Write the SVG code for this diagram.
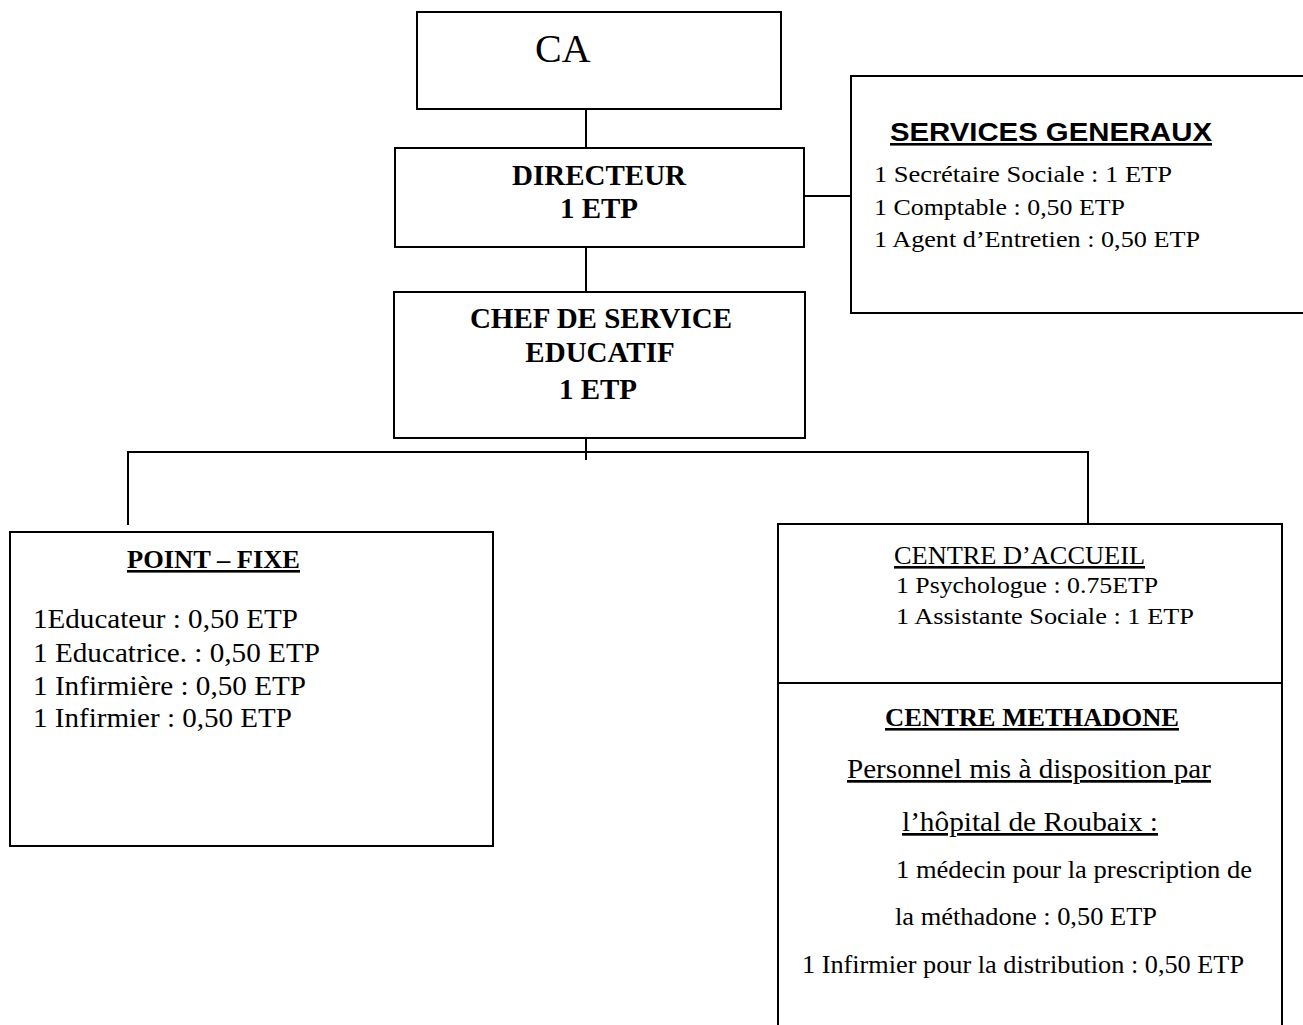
<svg xmlns="http://www.w3.org/2000/svg" width="1303" height="1025" viewBox="0 0 1303 1025">
<style>
rect.box{fill:#fff;stroke:#000;stroke-width:2}
line.c{stroke:#000;stroke-width:2}
text{fill:#000;font-family:"Liberation Serif","Times New Roman",serif}
.b{font-weight:bold}
.u{text-decoration:underline}
.sans{font-family:"Liberation Sans",Arial,sans-serif}
.m{text-anchor:middle}
</style>
<rect width="1303" height="1025" fill="#fff"/>
<g id="connectors">
<line class="c" x1="586" y1="109" x2="586" y2="150"/>
<line class="c" x1="586" y1="246" x2="586" y2="292"/>
<line class="c" x1="804" y1="196" x2="851" y2="196"/>
<line class="c" x1="586" y1="436" x2="586" y2="460"/>
<line class="c" x1="127" y1="452" x2="1089" y2="452"/>
<line class="c" x1="128" y1="451" x2="128" y2="525"/>
<line class="c" x1="1088" y1="451" x2="1088" y2="524"/>
</g>
<g id="ca">
<rect class="box" x="417" y="12" width="364" height="97"/>
<text x="535" y="62" font-size="40">CA</text>
</g>
<g id="directeur">
<rect class="box" x="395" y="148" width="409" height="99"/>
<text class="b m" x="599" y="185" font-size="29">DIRECTEUR</text>
<text class="b m" x="599" y="218" font-size="29">1 ETP</text>
</g>
<g id="services-generaux">
<rect class="box" x="851" y="76" width="470" height="237"/>
<text class="sans b u" x="890" y="141" font-size="26" textLength="322" lengthAdjust="spacingAndGlyphs">SERVICES GENERAUX</text>
<text x="874" y="182" font-size="24" textLength="298" lengthAdjust="spacingAndGlyphs">1 Secrétaire Sociale : 1 ETP</text>
<text x="874" y="215" font-size="24" textLength="251" lengthAdjust="spacingAndGlyphs">1 Comptable : 0,50 ETP</text>
<text x="874" y="247" font-size="24" textLength="326" lengthAdjust="spacingAndGlyphs">1 Agent d’Entretien : 0,50 ETP</text>
</g>
<g id="chef-de-service">
<rect class="box" x="394" y="292" width="411" height="146"/>
<text class="b m" x="601" y="328" font-size="29">CHEF DE SERVICE</text>
<text class="b m" x="600" y="362" font-size="29">EDUCATIF</text>
<text class="b m" x="598" y="399" font-size="29">1 ETP</text>
</g>
<g id="point-fixe">
<rect class="box" x="10" y="532" width="483" height="314"/>
<text class="b u" x="127" y="568" font-size="26" textLength="173" lengthAdjust="spacingAndGlyphs">POINT – FIXE</text>
<text x="33" y="628" font-size="27" textLength="265" lengthAdjust="spacingAndGlyphs">1Educateur : 0,50 ETP</text>
<text x="33" y="662" font-size="27" textLength="287" lengthAdjust="spacingAndGlyphs">1 Educatrice. : 0,50 ETP</text>
<text x="33" y="695" font-size="27" textLength="273" lengthAdjust="spacingAndGlyphs">1 Infirmière : 0,50 ETP</text>
<text x="33" y="727" font-size="27" textLength="259" lengthAdjust="spacingAndGlyphs">1 Infirmier : 0,50 ETP</text>
</g>
<g id="centre-accueil">
<rect class="box" x="778" y="524" width="504" height="159"/>
<text class="u" x="894" y="564" font-size="26" textLength="251" lengthAdjust="spacingAndGlyphs">CENTRE D’ACCUEIL</text>
<text x="896" y="593" font-size="24" textLength="262" lengthAdjust="spacingAndGlyphs">1 Psychologue : 0.75ETP</text>
<text x="896" y="624" font-size="24" textLength="298" lengthAdjust="spacingAndGlyphs">1 Assistante Sociale : 1 ETP</text>
</g>
<g id="centre-methadone">
<rect class="box" x="778" y="683" width="504" height="360"/>
<text class="b u" x="885" y="726" font-size="26" textLength="294" lengthAdjust="spacingAndGlyphs">CENTRE METHADONE</text>
<text class="u" x="847" y="778" font-size="27" textLength="364" lengthAdjust="spacingAndGlyphs">Personnel mis à disposition par</text>
<text class="u" x="902" y="831" font-size="27" textLength="256" lengthAdjust="spacingAndGlyphs">l’hôpital de Roubaix :</text>
<text x="896" y="878" font-size="25" textLength="356" lengthAdjust="spacingAndGlyphs">1 médecin pour la prescription de</text>
<text x="895" y="925" font-size="25" textLength="262" lengthAdjust="spacingAndGlyphs">la méthadone : 0,50 ETP</text>
<text x="802" y="973" font-size="25" textLength="442" lengthAdjust="spacingAndGlyphs">1 Infirmier pour la distribution : 0,50 ETP</text>
</g>
</svg>
